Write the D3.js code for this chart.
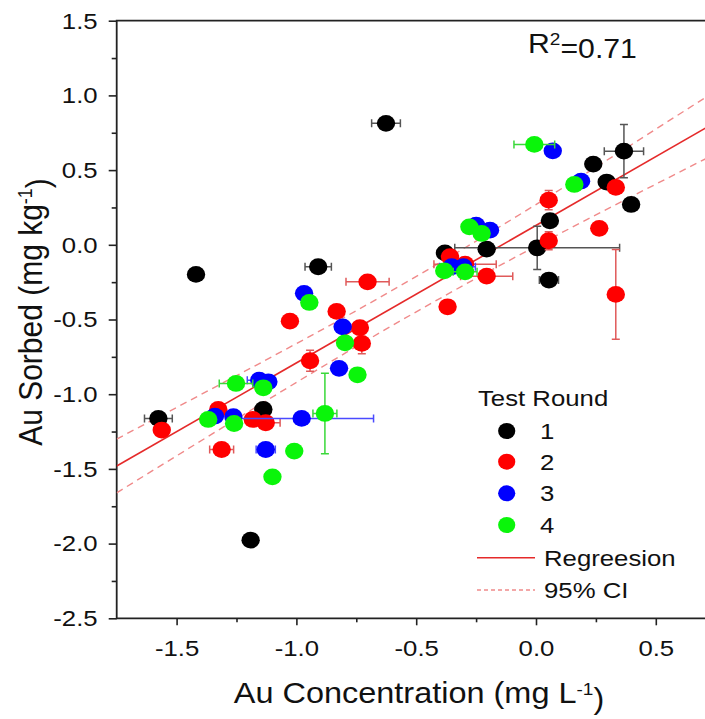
<!DOCTYPE html>
<html>
<head>
<meta charset="utf-8">
<script src="https://cdn.jsdelivr.net/npm/d3@7"></script>
<style>
  body { margin: 0; background: #fff; }
  svg { display: block; font-family: "Liberation Sans", Arial, sans-serif; }
</style>
</head>
<body>
<div class="chart"></div>
<script>
// ---- data ----
// Test round 1 (black)
const r1X    = [-0.626, -1.419, -0.909, -1.576, -1.138, -1.191, -0.380, -0.206, 0.005, 0.058, 0.054, 0.239, 0.295, 0.367, 0.397];
const r1Y    = [0.813, -0.198, -0.147, -1.162, -1.102, -1.977, -0.054, -0.029, -0.020, 0.161, -0.236, 0.540, 0.420, 0.627, 0.270];
const r1XErr = [0.06, 0, 0.055, 0.058, 0, 0, 0, 0, 0.344, 0, 0.04, 0, 0, 0.082, 0];
const r1YErr = [0, 0, 0, 0, 0, 0, 0, 0, 0.145, 0, 0, 0, 0, 0.179, 0];

// Test round 2 (red)
const r2X    = [-1.027, -0.832, -0.943, -0.703, -0.735, -0.727, -0.369, -0.206, 0.053, 0.053, 0.264, 0.333, 0.333, -0.359, -0.296, -1.562, -1.326, -1.312, -1.182, -1.128];
const r2Y    = [-0.511, -0.446, -0.776, -0.248, -0.555, -0.660, -0.415, -0.210, 0.299, 0.027, 0.110, 0.384, -0.332, -0.080, -0.130, -1.240, -1.102, -1.370, -1.169, -1.191];
const r2XErr = [0, 0, 0, 0.09, 0, 0.03, 0, 0.109, 0, 0, 0, 0, 0, 0, 0.13, 0, 0, 0.05, 0, 0.06];
const r2YErr = [0, 0, 0.07, 0, 0, 0.07, 0, 0, 0.065, 0.06, 0, 0, 0.30, 0, 0, 0, 0, 0, 0, 0];

// Test round 3 (blue)
const r3X    = [-0.968, -0.807, -0.822, -1.155, -1.117, -1.263, -1.340, -0.978, -1.128, -0.250, -0.192, -0.352, -0.303, 0.070, 0.188];
const r3Y    = [-0.325, -0.549, -0.827, -0.906, -0.917, -1.151, -1.147, -1.162, -1.370, 0.132, 0.098, -0.147, -0.147, 0.629, 0.426];
const r3XErr = [0, 0, 0, 0.05, 0, 0, 0, 0.3, 0.04, 0, 0, 0.05, 0.05, 0.03, 0];
const r3YErr = [0, 0, 0, 0, 0, 0, 0, 0, 0, 0, 0, 0, 0, 0, 0];

// Test round 4 (green)
const r4X    = [-0.946, -0.797, -0.745, -1.252, -1.138, -0.881, -1.368, -1.260, -1.009, -1.100, -0.278, -0.227, -0.383, -0.296, -0.007, 0.160];
const r4Y    = [-0.386, -0.656, -0.870, -0.928, -0.957, -1.129, -1.169, -1.196, -1.381, -1.553, 0.120, 0.076, -0.174, -0.181, 0.672, 0.404];
const r4XErr = [0, 0, 0, 0.07, 0, 0.05, 0, 0, 0, 0, 0, 0, 0, 0.05, 0.085, 0];
const r4YErr = [0, 0, 0, 0, 0, 0.27, 0, 0.04, 0, 0, 0, 0, 0, 0, 0.04, 0];

// regression line and 95% confidence band
const regX = [-1.75, 0.75];
const regY = [-1.481, 0.820];
const ciX     = [-1.75, -1.25, -0.75, -0.25, 0.25, 0.75];
const ciUpper = [-1.30, -0.876, -0.441, 0.025, 0.52, 1.03];
const ciLower = [-1.66, -1.166, -0.681, -0.225, 0.20, 0.61];

const xTicks = [-1.5, -1.0, -0.5, 0.0, 0.5];
const yTicks = [1.5, 1.0, 0.5, 0.0, -0.5, -1.0, -1.5, -2.0, -2.5];
const legendNames = ["1", "2", "3", "4"];

const rounds = [
    { x: r1X, y: r1Y, xe: r1XErr, ye: r1YErr, fill: "#000000", bar: "#555555" },
    { x: r2X, y: r2Y, xe: r2XErr, ye: r2YErr, fill: "#ff0000", bar: "#e05a5a" },
    { x: r3X, y: r3Y, xe: r3XErr, ye: r3YErr, fill: "#0000ff", bar: "#4a4aff" },
    { x: r4X, y: r4Y, xe: r4XErr, ye: r4YErr, fill: "#0af50a", bar: "#3ad83a" }
];

// ---- layout ----
const width = 705;
const height = 719;
const stretch = 1.12;   // text in the reference is a bit wider than Arial
const font = "\"Liberation Sans\", Arial, sans-serif";
const fmt = d => d.toFixed(1);   // plain hyphen minus like the original

let svg = d3.select(".chart").append("svg")
    .attr("width", width)
    .attr("height", height);

let xScale = d3.scaleLinear().domain([-1.75, 0.75]).range([116.7, 715.7]);
let yScale = d3.scaleLinear().domain([-2.5, 1.5]).range([618.3, 20.7]);

svg.append("clipPath").attr("id", "plot-clip")
    .append("rect")
    .attr("x", xScale(-1.75)).attr("y", yScale(1.5))
    .attr("width", xScale(0.75) - xScale(-1.75))
    .attr("height", yScale(-2.5) - yScale(1.5));

// axes
let xAxis = d3.axisBottom(xScale).tickValues(xTicks).tickSize(7).tickPadding(14).tickFormat(fmt);
let yAxis = d3.axisLeft(yScale).tickValues(yTicks).tickSize(8).tickPadding(9).tickFormat(fmt);
let xMinor = d3.axisBottom(xScale).tickValues([-1.25, -0.75, -0.25, 0.25]).tickSize(4).tickFormat("");
let yMinor = d3.axisLeft(yScale).tickValues(d3.range(-2.25, 1.5, 0.5)).tickSize(5).tickFormat("");

const styleAxis = g => {
    g.select(".domain").remove();
    g.selectAll("line").attr("stroke", "#222").attr("stroke-width", 1.6);
    g.selectAll("text")
        .attr("fill", "#111")
        .style("font-family", font)
        .style("font-size", "23px");
};

svg.append("g").attr("transform", "translate(0," + yScale(-2.5) + ")").call(xAxis).call(styleAxis)
    .selectAll("text").attr("dy", "0.71em").attr("transform", "scale(" + stretch + ",1)");
svg.append("g").attr("transform", "translate(0," + yScale(-2.5) + ")").call(xMinor).call(styleAxis);
svg.append("g").attr("transform", "translate(" + xScale(-1.75) + ",0)").call(yAxis).call(styleAxis)
    .selectAll("text").attr("transform", "scale(" + stretch + ",1)");
svg.append("g").attr("transform", "translate(" + xScale(-1.75) + ",0)").call(yMinor).call(styleAxis);

// frame (left, bottom, top; the right side falls outside the picture)
svg.append("path")
    .attr("d", "M" + xScale(0.75) + "," + yScale(1.5) + "H" + xScale(-1.75) + "V" + yScale(-2.5) + "H" + xScale(0.75))
    .attr("fill", "none").attr("stroke", "#222").attr("stroke-width", 1.8);

let plot = svg.append("g").attr("clip-path", "url(#plot-clip)");

// regression + CI
let line = d3.line().x(d => xScale(d[0])).y(d => yScale(d[1]));
let bandLine = d3.line().x(d => xScale(d[0])).y(d => yScale(d[1])).curve(d3.curveNatural);

plot.append("path")
    .attr("d", bandLine(ciX.map((x, i) => [x, ciUpper[i]])))
    .attr("fill", "none").attr("stroke", "#f08a8a").attr("stroke-width", 1.4)
    .attr("stroke-dasharray", "7,5");
plot.append("path")
    .attr("d", bandLine(ciX.map((x, i) => [x, ciLower[i]])))
    .attr("fill", "none").attr("stroke", "#f08a8a").attr("stroke-width", 1.4)
    .attr("stroke-dasharray", "7,5");
plot.append("path")
    .attr("d", line(regX.map((x, i) => [x, regY[i]])))
    .attr("fill", "none").attr("stroke", "#e52a2a").attr("stroke-width", 1.6);

// points with error bars, one round at a time
rounds.forEach(r => {
    let pts = r.x.map((x, i) => ({ x: x, y: r.y[i], xe: r.xe[i], ye: r.ye[i] }));
    let g = plot.append("g");
    const cap = 4;

    pts.filter(d => d.xe > 0).forEach(d => {
        let x0 = xScale(d.x - d.xe), x1 = xScale(d.x + d.xe), y = yScale(d.y);
        g.append("path")
            .attr("d", "M" + x0 + "," + y + "H" + x1 +
                "M" + x0 + "," + (y - cap) + "V" + (y + cap) +
                "M" + x1 + "," + (y - cap) + "V" + (y + cap))
            .attr("fill", "none").attr("stroke", r.bar).attr("stroke-width", 1.5);
    });
    pts.filter(d => d.ye > 0).forEach(d => {
        let y0 = yScale(d.y - d.ye), y1 = yScale(d.y + d.ye), x = xScale(d.x);
        g.append("path")
            .attr("d", "M" + x + "," + y0 + "V" + y1 +
                "M" + (x - cap) + "," + y0 + "H" + (x + cap) +
                "M" + (x - cap) + "," + y1 + "H" + (x + cap))
            .attr("fill", "none").attr("stroke", r.bar).attr("stroke-width", 1.5);
    });

    g.selectAll("ellipse")
        .data(pts)
        .enter()
        .append("ellipse")
        .attr("cx", d => xScale(d.x))
        .attr("cy", d => yScale(d.y))
        .attr("rx", 9.2)
        .attr("ry", 8.4)
        .attr("fill", r.fill);
});

// stretched text helper
const addText = (x, y, size, anchor) => svg.append("text")
    .attr("transform", "translate(" + x + "," + y + ") scale(" + stretch + ",1)")
    .attr("text-anchor", anchor)
    .style("font-family", font)
    .style("font-size", size + "px")
    .attr("fill", "#111");

// R^2
let r2 = addText(528, 53, 27, "start");
r2.append("tspan").text("R");
r2.append("tspan").attr("dy", "-0.5em").style("font-size", "17px").text("2");
r2.append("tspan").attr("dy", "0.5em").text("=0.71");

// axis titles
let xt = addText(419, 703, 29, "middle");
xt.append("tspan").text("Au Concentration (mg L");
xt.append("tspan").attr("dy", "-0.5em").style("font-size", "17px").text("-1");
xt.append("tspan").attr("dy", "0.5em").text(")");

let yt = svg.append("text")
    .attr("transform", "translate(42,312) rotate(-90) scale(1," + stretch + ")")
    .attr("text-anchor", "middle")
    .style("font-family", font)
    .style("font-size", "30px")
    .attr("fill", "#111");
yt.append("tspan").text("Au Sorbed (mg kg");
yt.append("tspan").attr("dy", "-0.5em").style("font-size", "18px").text("-1");
yt.append("tspan").attr("dy", "0.5em").text(")");

// legend
addText(478, 406, 23, "start").text("Test Round");
const legendRowY = [431, 461.7, 493.3, 525];
rounds.forEach((r, i) => {
    svg.append("ellipse")
        .attr("cx", 506.7).attr("cy", legendRowY[i])
        .attr("rx", 8.6).attr("ry", 8).attr("fill", r.fill);
    addText(540, legendRowY[i] + 8, 23, "start").text(legendNames[i]);
});
svg.append("line")
    .attr("x1", 477).attr("x2", 535).attr("y1", 557.7).attr("y2", 557.7)
    .attr("stroke", "#e52a2a").attr("stroke-width", 1.6);
addText(544, 565.5, 23, "start").text("Regreesion");
svg.append("line")
    .attr("x1", 477).attr("x2", 535).attr("y1", 590).attr("y2", 590)
    .attr("stroke", "#f08a8a").attr("stroke-width", 1.3).attr("stroke-dasharray", "4,3");
addText(544, 598, 23, "start").text("95% CI");
</script>
</body>
</html>
